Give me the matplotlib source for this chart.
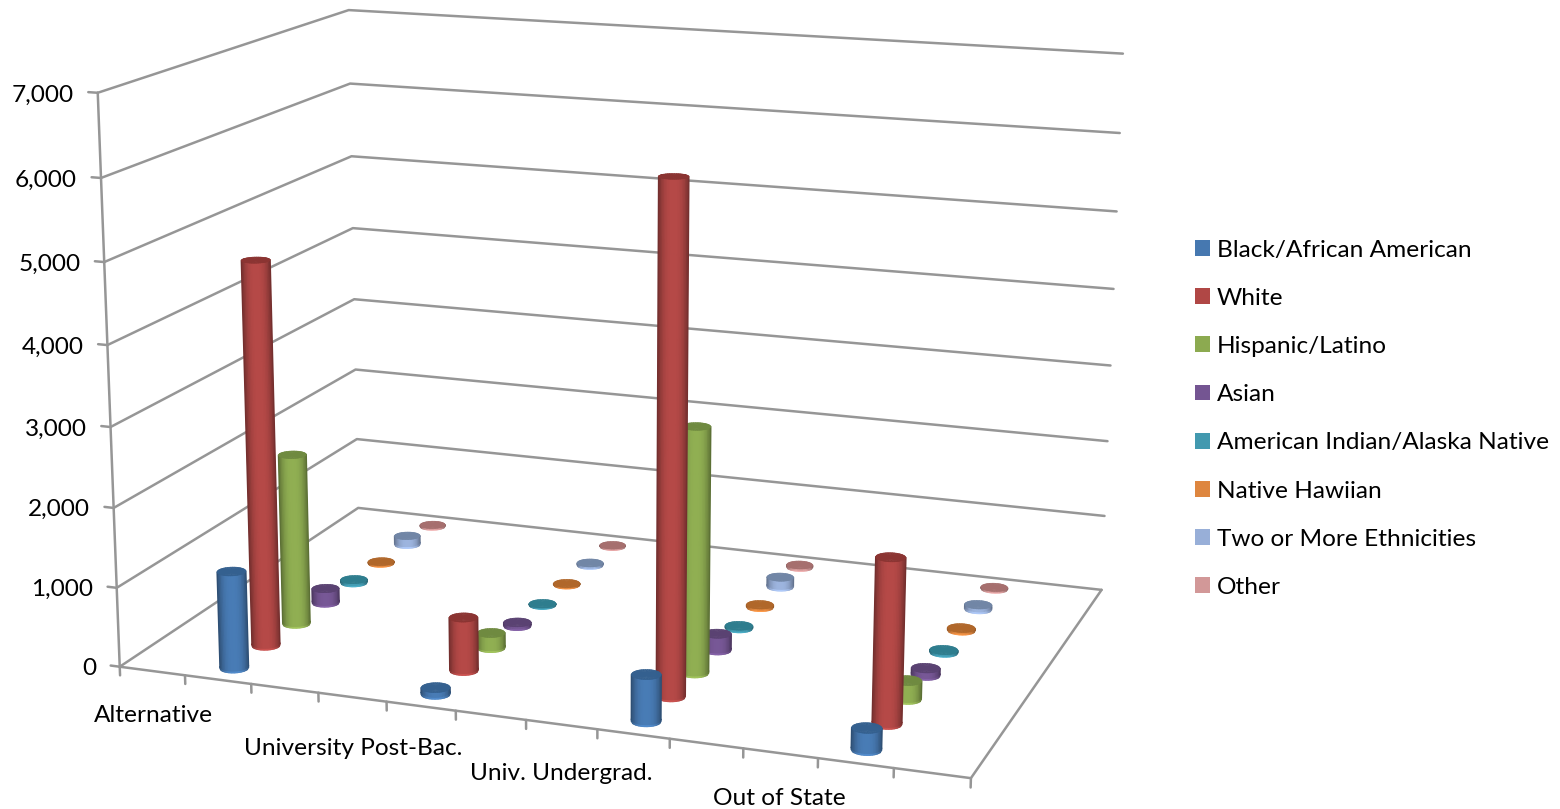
"""3D cylinder column chart of enrollment by route and ethnicity."""
import numpy as np
import matplotlib
matplotlib.use("Agg")
import matplotlib.pyplot as plt
from matplotlib.colors import to_rgb
from matplotlib.patches import Patch
from mpl_toolkits.mplot3d import proj3d

plt.rcParams["font.family"] = ["Lato", "DejaVu Sans"]

categories = ["Alternative", "University Post-Bac.", "Univ. Undergrad.", "Out of State"]
series_names = ["Black/African American", "White", "Hispanic/Latino", "Asian",
                "American Indian/Alaska Native", "Native Hawiian",
                "Two or More Ethnicities", "Other"]

black = [1220, 80, 570, 260]
white = [4850, 670, 6230, 2010]
hispanic = [2200, 190, 3070, 230]
asian = [190, 45, 210, 90]
native_am = [40, 15, 30, 30]
hawaiian = [20, 15, 30, 30]
two_more = [120, 30, 130, 60]
other = [20, 15, 30, 20]
values = [black, white, hispanic, asian, native_am, hawaiian, two_more, other]

z_ticks = [0, 1000, 2000, 3000, 4000, 5000, 6000, 7000]

side_colors = ["#4678B0", "#B04745", "#8CAA50", "#745592", "#4299AF", "#DE863F", "#98AFD8", "#D29898"]
cap_colors = ["#34608F", "#8B3432", "#6F8A40", "#5A4272", "#2E7D8E", "#B0672A", "#7186A6", "#A66F6E"]

GRID = "#969696"
RADIUS = 0.195
N_ROWS = 12   # x axis intervals, a category every 3rd
N_DEPTH = 8
FONT = 17.6


fig = plt.figure(figsize=(15.6, 8.09), dpi=100)
ax = fig.add_axes([-90.25/1560, -265.6/809, 1400/1560, 1400/809], projection="3d")
ax.computed_zorder = False
ax.set_axis_off()
ax.set_xlim(0, N_ROWS)
ax.set_ylim(0, N_DEPTH)
ax.set_zlim(0, z_ticks[-1])
ax.view_init(14.3569, -70.2963, -0.1277)
ax.set_proj_type("persp", focal_length=0.4346)
ax.set_box_aspect((1.5033, 0.9952, 1), zoom=0.8178)

# camera position in data coordinates, the point that projects to nothing
M = ax.get_proj()
eye = np.linalg.svd(M[[0, 1, 3]])[2][-1]
eye = eye[:3]/eye[3]


def draw_cylinder(x, y, h, side, cap, order):
    # only the half facing the camera, in strips of even width on screen
    u = np.linspace(-1, 1, 21)
    theta = np.arctan2(eye[1] - y, eye[0] - x) + np.arcsin(u)
    xs = x + RADIUS*np.cos(theta)
    ys = y + RADIUS*np.sin(theta)
    rim = min(h*0.5, 25)
    X = np.vstack([xs, xs, xs])
    Y = np.vstack([ys, ys, ys])
    Z = np.vstack([np.zeros_like(xs), np.full_like(xs, rim), np.full_like(xs, h)])

    # darker on both edges, pale rim at the foot
    mid = (u[:-1] + u[1:])/2
    light = 1.03 - 0.42*np.abs(mid)**2.5
    rgb = np.clip(np.outer(light, to_rgb(side)), 0, 1)
    face = np.stack([np.clip(rgb*1.12, 0, 1), rgb])
    surf = ax.plot_surface(X, Y, Z, facecolors=face, rstride=1, cstride=1, shade=False,
                           linewidth=1.0, antialiased=True, zorder=order)
    surf.set_snap(False)

    angle = np.linspace(0, 2*np.pi, 49)
    lid = np.array([0, RADIUS])
    cX = x + np.outer(lid, np.cos(angle))
    cY = y + np.outer(lid, np.sin(angle))
    top = ax.plot_surface(cX, cY, np.full_like(cX, h), color=cap, rstride=1, cstride=1, shade=False,
                          linewidth=0.4, edgecolor=cap, antialiased=True, zorder=order + 0.5)
    top.set_snap(False)


# walls and floor
line_kw = dict(color=GRID, linewidth=1.8, zorder=1, solid_capstyle="round")
for z in z_ticks:
    ax.plot([0, 0, N_ROWS], [0, N_DEPTH, N_DEPTH], [z, z, z], **line_kw)
    ax.plot([-0.14, 0], [0, 0], [z, z], **line_kw)
ax.plot([0, 0], [0, 0], [0, z_ticks[-1]], **line_kw)
ax.plot([0, N_ROWS, N_ROWS], [0, 0, N_DEPTH], [0, 0, 0], **line_kw)
for x in range(N_ROWS + 1):
    ax.plot([x, x], [0, 0], [0, -110], **line_kw)

# back rows first so the nearer cylinders cover them
for s, vals in enumerate(values):
    for c, v in enumerate(vals):
        order = 10 + 2*(N_DEPTH - s) + 0.1*c
        draw_cylinder(3*c + 1.5, s + 0.5, v, side_colors[s], cap_colors[s], order)


def label_at(x, y, z, text, ha, dy=0):
    """Put text on the figure where a 3D point lands, dy pixels lower."""
    px, py, _ = proj3d.proj_transform(x, y, z, M)
    px, py = ax.transData.transform((px, py))
    fig.text(px/1560, (py - dy)/809, text, ha=ha, va="center", fontsize=FONT, color="black")


for z in z_ticks:
    label_at(-0.36, 0, z, f"{z:,}", "right", dy=4.5)

label_drop = [570, 640, 595, 545]
for i, name in enumerate(categories):
    label_at(3*i + 0.5, 0, -label_drop[i], name, "center")

handles = [Patch(facecolor=c, edgecolor="none", label=n) for c, n in zip(side_colors, series_names)]
fig.legend(handles=handles, loc="upper left", bbox_to_anchor=(1195/1560, 1 - 239.5/809),
           frameon=False, fontsize=FONT, borderpad=0, borderaxespad=0, handlelength=0.61,
           handleheight=0.61, handletextpad=0.29, labelspacing=1.113)

fig.savefig("out.png", dpi=100)
